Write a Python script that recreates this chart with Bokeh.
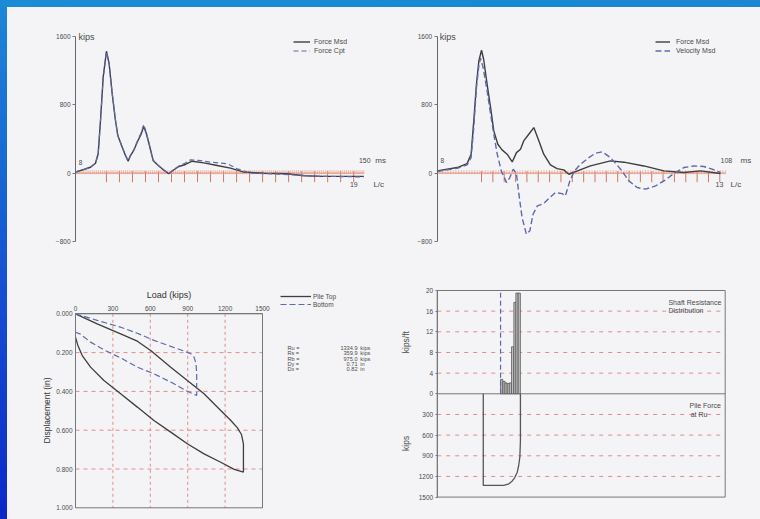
import numpy as np
from bokeh.plotting import figure
from bokeh.models import FixedTicker, Range1d, Label, PrintfTickFormatter, Div
from bokeh.layouts import row, column
from bokeh.embed import file_html
from bokeh.resources import INLINE

# ---------------- data ----------------
# Top-left: Force Msd / Force Cpt (time ms, force kips)
tl_time_msd = [0, 4.3, 7.8, 10.4, 11.8, 13.0, 14.4, 16.1, 17.5, 19.1, 20.8, 22.0, 24.3, 26.0,
               27.4, 28.6, 30.3, 32.1, 34.2, 35.5, 36.9, 38.7, 40.4, 42.5, 45.1, 48.5, 51.2,
               53.8, 57.2, 60.7, 66.8, 73.7, 80.6, 87.6, 98.0, 110.2, 118.8, 129.2, 150.0]
tl_force_msd = [12, 43, 70, 117, 227, 617, 1124, 1428, 1281, 929, 617, 441, 304, 207,
                140, 207, 266, 363, 461, 547, 461, 304, 148, 102, 51, -7, 40,
                78, 102, 140, 121, 90, 59, 12, 0, -7, -30, -37, -37]
tl_time_cpt = [0, 4.3, 7.8, 10.4, 11.8, 13.0, 14.4, 16.1, 17.5, 19.1, 20.8, 22.0, 24.3, 26.0,
               27.4, 28.6, 30.3, 32.1, 34.2, 35.5, 36.9, 38.7, 40.4, 42.5, 45.1, 48.5, 51.2,
               53.8, 57.2, 59.8, 64.0, 70.3, 79.0, 84.2, 91.2, 100.0, 113.5, 125.0, 150.0]
tl_force_cpt = [12, 43, 70, 117, 227, 610, 1110, 1420, 1285, 935, 622, 445, 306, 210,
                145, 210, 272, 372, 475, 570, 470, 310, 150, 100, 52, -5, 45,
                85, 120, 157, 150, 129, 110, 51, 0, -5, -19, -35, -44]

# Top-right: Force Msd / Velocity Msd
tr_time_force = [0, 7.5, 11.2, 12.7, 13.7, 14.7, 15.6, 16.6, 17.4, 18.7, 20.0, 21.2, 22.7,
                 24.3, 26.2, 28.1, 29.7, 31.2, 32.4, 34.3, 36.2, 38.1, 39.9, 42.4, 44.9,
                 47.4, 49.3, 51.8, 57.4, 64.9, 69.9, 77.4, 84.9, 92.4, 98.6, 106.1]
tr_force = [27, 66, 112, 222, 612, 1041, 1314, 1439, 1334, 1041, 768, 495, 339,
            273, 222, 132, 241, 281, 378, 456, 534, 378, 222, 97, 54,
            39, -12, 19, 85, 144, 129, 85, 27, 8, 27, -4]
tr_time_vel = [0, 7.5, 11.2, 12.7, 13.7, 14.7, 15.6, 16.2, 17.2, 18.7, 20.0, 21.2, 22.5,
               24.0, 26.0, 27.2, 28.5, 29.7, 30.6, 31.8, 33.4, 34.7, 35.9, 37.5, 39.9,
               42.2, 44.3, 46.8, 48.0, 49.7, 51.4, 53.7, 56.8, 59.3, 61.8, 64.9, 68.7,
               71.8, 74.9, 78.0, 81.8, 85.5, 88.6, 92.4, 96.1, 99.9, 103.0, 106.1]
tr_velocity = [20, 58, 97, 183, 534, 1002, 1256, 1346, 1236, 963, 690, 456, 222,
               27, -110, -51, 47, -12, -246, -520, -714, -675, -480, -383, -356,
               -285, -227, -239, -266, -90, 27, 105, 183, 234, 250, 183, 47,
               -90, -168, -187, -149, -78, -4, 66, 85, 78, 47, 8]

# Bottom-left: load (kips) vs displacement (in)
top_load = [0, 174, 362, 496, 603, 764, 897, 1031, 1165, 1246, 1299, 1331, 1347, 1347,
            1273, 1165, 1031, 897, 764, 629, 496, 362, 228, 121, 54, 19, 0]
top_disp = [0, 0.052, 0.103, 0.141, 0.189, 0.275, 0.344, 0.412, 0.498, 0.550, 0.588, 0.622,
            0.670, 0.816, 0.802, 0.765, 0.722, 0.670, 0.610, 0.550, 0.481, 0.412, 0.344,
            0.275, 0.215, 0.163, 0.120]
bot_load = [0, 174, 362, 496, 629, 764, 871, 924, 951, 967, 972, 972,
            897, 764, 629, 496, 362, 228, 121, 40, 0]
bot_disp = [0, 0.034, 0.069, 0.100, 0.137, 0.168, 0.192, 0.206, 0.223, 0.258, 0.309, 0.421,
            0.399, 0.352, 0.309, 0.275, 0.227, 0.186, 0.146, 0.105, 0.095]
load_ticks = [0, 300, 600, 900, 1200, 1500]
disp_ticks = [0.0, 0.2, 0.4, 0.6, 0.8, 1.0]
result_names = ["Ru =", "Rs =", "Rb =", "Dy =", "Dx ="]
result_values = ["1334.9", "359.9", "975.0", "0.71", "0.82"]
result_units = ["kips", "kips", "kips", "in", "in"]

# Bottom-right: shaft resistance (kips/ft) and pile force (kips) along depth (ft)
depth_max = 100
shaft_depth = [22.4, 23.2, 23.9, 24.7, 25.4, 26.2, 27.0, 27.7, 28.5]
shaft_resist = [2.8, 2.4, 2.1, 2.0, 2.1, 9.1, 17.7, 19.5, 19.5]
shaft_top_depth = 22.0
force_depth = [16.0, 16.0, 23.1, 24.9, 26.0, 26.9, 27.8, 28.3, 28.7, 28.9, 28.9]
pile_force = [0, 1331, 1331, 1307, 1269, 1220, 1138, 1041, 920, 678, 0]
resist_ticks = [0, 4, 8, 12, 16, 20]
force_ticks = [300, 600, 900, 1200, 1500]

# ms rulers (end of record, impact time, L/c period, number of L/c marks)
tl_ms_end, tl_impact, tl_lc, tl_nlc = 150, 16.1, 6.77, 20
tr_ms_end, tr_impact, tr_lc, tr_nlc = 108, 16.6, 4.25, 22

# ---------------- style ----------------
FONT = "Liberation Sans"
PAPER = "#f4f4f6"
TXT = "#4a4a4a"
INK = "#3e3e3e"
BLUE = "#5f68ab"
RULER = "#e49a86"
RULER_MAJ = "#cf7862"
RULER_MIN = "#eeaa98"
GRID = "#e08c8c"
FRAME = "#777777"
BG = {"background-color": PAPER}


def lab(p, x, y, text, size="6.5px", align="left", baseline="middle", angle=0.0,
        y_range_name="default", color=TXT):
    p.add_layout(Label(x=x, y=y, text=text, text_font=FONT, text_font_size=size,
                       text_color=color, text_align=align, text_baseline=baseline,
                       angle=angle, y_range_name=y_range_name))


def style_axis(ax, size="6.5px", tick_out=0, standoff=3):
    ax.axis_line_color = FRAME
    ax.major_tick_line_color = FRAME
    ax.major_tick_out = tick_out
    ax.major_tick_in = 0
    ax.minor_tick_line_color = None
    ax.major_label_text_font = FONT
    ax.major_label_text_font_size = size
    ax.major_label_text_color = TXT
    ax.major_label_standoff = standoff


def style_legend(p, loc, gw, gh, standoff, size="7px"):
    lg = p.legend[0]
    lg.location = loc
    lg.glyph_width = gw
    lg.glyph_height = gh
    lg.label_height = gh
    lg.label_standoff = standoff
    lg.spacing = 0
    lg.padding = 0
    lg.margin = 0
    lg.border_line_color = None
    lg.background_fill_alpha = 0
    lg.label_text_font = FONT
    lg.label_text_font_size = size
    lg.label_text_color = TXT


KPX = 11.707  # kips per pixel in the wave plots


def wave_fig(width, left, x_start, x_end, ms_end, impact, lc, nlc):
    p = figure(width=width, height=255, x_range=Range1d(x_start, x_end),
               y_range=Range1d(-1045.4, 1939.8), x_axis_location=None,
               y_axis_location="left", toolbar_location=None, output_backend="svg",
               min_border_left=left, min_border_right=0, min_border_top=0,
               min_border_bottom=0, background_fill_color=PAPER,
               border_fill_color=PAPER, outline_line_color=None, styles=BG)
    p.grid.visible = False
    ax = p.yaxis[0]
    ax.fixed_location = 0
    ax.bounds = (-800, 1600)
    ax.ticker = FixedTicker(ticks=[-800, 0, 800, 1600])
    style_axis(ax, tick_out=3, standoff=2)
    ax.axis_line_color = "#666666"
    # ms ruler along the zero line
    ms_ticks = np.arange(0, ms_end + 0.01, 1.0)
    lc_ticks = [impact + k * lc for k in range(nlc)]
    p.segment(x0=ms_ticks, y0=-1 * KPX, x1=ms_ticks, y1=3 * KPX,
              line_color=RULER_MIN, line_width=0.8)
    p.segment(x0=lc_ticks, y0=-9 * KPX, x1=lc_ticks, y1=2 * KPX,
              line_color=RULER_MAJ, line_width=1.0)
    p.segment(x0=[0], y0=[0], x1=[ms_end], y1=[0], line_color=RULER, line_width=1.3)
    return p


# ---------------- top-left ----------------
pA = wave_fig(385, 36, -16.65, 164.93, tl_ms_end, tl_impact, tl_lc, tl_nlc)
pA.line(tl_time_msd, tl_force_msd, line_color=INK, line_width=1.4, legend_label="Force Msd")
pA.line(tl_time_cpt, tl_force_cpt, line_color=BLUE, line_width=1.2, line_dash="5 3",
        legend_label="Force Cpt")
style_legend(pA, (250, 207), 17, 9, 4)
lab(pA, 1.6, 1600, "kips", size="9px")
lab(pA, 1.7, 130, "8")
lab(pA, 150.5, 150, "150", size="7px", align="center")
lab(pA, 156.0, 150, "ms", size="8px")
lab(pA, 144.8, -136, "19", size="7px", align="center")
lab(pA, 155.0, -136, "L/c", size="8px")

# ---------------- top-right ----------------
pB = wave_fig(368, 24, -7.75, 121.09, tr_ms_end, tr_impact, tr_lc, tr_nlc)
pB.line(tr_time_force, tr_force, line_color=INK, line_width=1.4, legend_label="Force Msd")
pB.line(tr_time_vel, tr_velocity, line_color=BLUE, line_width=1.4, line_dash="6 3",
        legend_label="Velocity Msd")
style_legend(pB, (239, 207), 15, 9, 6)
lab(pB, 1.0, 1600, "kips", size="9px")
lab(pB, 1.2, 145, "8")
lab(pB, 108.3, 150, "108", size="7px", align="center")
lab(pB, 113.6, 150, "ms", size="8px")
lab(pB, 105.7, -136, "13", size="7px", align="center")
lab(pB, 109.9, -136, "L/c", size="8px")

# ---------------- bottom-left ----------------
pC = figure(width=367, height=257, x_range=Range1d(-256.7, 2398.3),
            y_range=Range1d(1.0603, -0.1923), x_axis_location="above",
            toolbar_location=None, output_backend="svg",
            min_border_left=36, min_border_right=0, min_border_top=14, min_border_bottom=0,
            background_fill_color=PAPER, border_fill_color=PAPER, outline_line_color=None,
            styles=BG)
pC.grid.visible = False
axx, axy = pC.xaxis[0], pC.yaxis[0]
axx.fixed_location = 0
axx.bounds = (load_ticks[0], load_ticks[-1])
axx.ticker = FixedTicker(ticks=load_ticks)
axy.fixed_location = 0
axy.bounds = (disp_ticks[0], disp_ticks[-1])
axy.ticker = FixedTicker(ticks=disp_ticks)
axy.formatter = PrintfTickFormatter(format="%.3f")
axy.axis_label = "Displacement (in)"
for ax in (axx, axy):
    style_axis(ax, tick_out=0, standoff=3)
    ax.axis_label_text_font = FONT
    ax.axis_label_text_font_style = "normal"
    ax.axis_label_text_color = "#333333"
axy.axis_label_text_font_size = "8.5px"
axy.axis_label_standoff = 1
lab(pC, 750, -0.0969, "Load (kips)", size="9px", align="center", color="#333333")
pC.segment(x0=load_ticks[1:-1], y0=disp_ticks[0], x1=load_ticks[1:-1], y1=disp_ticks[-1],
           line_color=GRID, line_dash="3 3", line_width=1)
pC.segment(x0=load_ticks[0], y0=disp_ticks[1:-1], x1=load_ticks[-1], y1=disp_ticks[1:-1],
           line_color=GRID, line_dash="4 4", line_width=1)
pC.quad(left=load_ticks[0], right=load_ticks[-1], top=disp_ticks[0], bottom=disp_ticks[-1],
        fill_color=None, line_color=FRAME, line_width=1)
pC.line(top_load, top_disp, line_color=INK, line_width=1.3, legend_label="Pile Top")
pC.line(bot_load, bot_disp, line_color=BLUE, line_width=1.2, line_dash="6 3",
        legend_label="Bottom")
style_legend(pC, (237, 211), 31, 8, 2, size="6.5px")
for i, (n, v, u) in enumerate(zip(result_names, result_values, result_units)):
    yy = 0.174 + i * 0.0282
    lab(pC, 1700, yy, n, size="5.6px")
    lab(pC, 2262, yy, v, size="5.6px", align="right")
    lab(pC, 2285, yy, u, size="5.6px")

# ---------------- bottom-right ----------------
pD = figure(width=386, height=257, x_range=Range1d(-14.13, 112.26),
            y_range=Range1d(-24.34, 22.71), x_axis_location=None,
            toolbar_location=None, output_backend="svg",
            min_border_left=22, min_border_right=0, min_border_top=14, min_border_bottom=0,
            background_fill_color=PAPER, border_fill_color=PAPER, outline_line_color=None,
            styles=BG)
pD.extra_y_ranges = {"kips": Range1d(1825.2, -1703.2)}
pD.grid.visible = False
ay = pD.yaxis[0]
ay.fixed_location = 0
ay.bounds = (-20, 20)
ay.ticker = FixedTicker(ticks=[-20, -16, -12, -8, -4, 0, 4, 8, 12, 16, 20])
ay.major_label_overrides = {-4: "300", -8: "600", -12: "900", -16: "1200", -20: "1500"}
style_axis(ay, tick_out=2, standoff=2)
pD.segment(x0=0, y0=resist_ticks[1:-1], x1=depth_max, y1=resist_ticks[1:-1],
           line_color=GRID, line_dash="4 5", line_width=1)
pD.segment(x0=0, y0=force_ticks[:-1], x1=depth_max, y1=force_ticks[:-1],
           y_range_name="kips", line_color=GRID, line_dash="4 5", line_width=1)
pD.segment(x0=[0], y0=[0], x1=[depth_max], y1=[0], line_color=FRAME, line_width=1)
pD.quad(left=0, right=depth_max, top=resist_ticks[-1], bottom=-resist_ticks[-1],
        fill_color=None, line_color=FRAME, line_width=1)
pD.vbar(x=shaft_depth, width=0.75, top=shaft_resist, bottom=0,
        fill_color="#c4c4c4", line_color="#555555", line_width=0.8)
pD.segment(x0=[shaft_top_depth], y0=[0], x1=[shaft_top_depth], y1=[resist_ticks[-1]],
           line_color=BLUE, line_width=1.2, line_dash="5 3")
pD.line(force_depth, pile_force, y_range_name="kips", line_color="#555555", line_width=1.3)
lab(pD, 80.3, 17.7, "Shaft Resistance", size="7px")
lab(pD, 80.3, 16.1, "Distribution", size="7px")
lab(pD, 87.6, 170, "Pile Force", size="7px", y_range_name="kips")
lab(pD, 88.0, 300, "at Ru", size="7px", y_range_name="kips")
lab(pD, -11.0, 10.0, "kips/ft", size="8.5px", align="center", angle=np.pi / 2)
lab(pD, -11.0, -9.6, "kips", size="8.5px", align="center", angle=np.pi / 2)

# ---------------- page frame (blue border of the slide) ----------------
top_strip = Div(text="", width=760, height=7, margin=0,
                styles={"background": "linear-gradient(to right, #1c8bd7, #1a86d4)"})
left_strip = Div(text="", width=7, height=512, margin=0,
                 styles={"background": "linear-gradient(to bottom, #1c86d6, #1650d2 55%, #0c28c8)"})

charts = column(row(pA, pB, spacing=0, styles=BG), row(pC, pD, spacing=0, styles=BG),
                spacing=0, styles=BG)
layout = column(top_strip, row(left_strip, charts, spacing=0, styles=BG), spacing=0)
open("out.html", "w").write(file_html(layout, INLINE))
